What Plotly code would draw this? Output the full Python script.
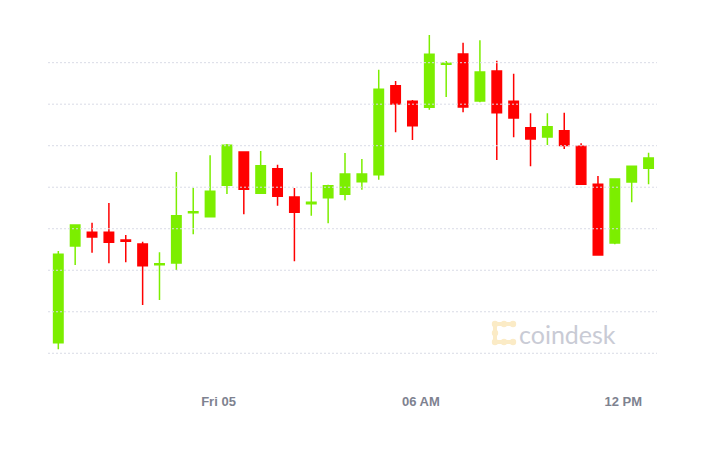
import plotly.graph_objects as go

times = [
    "2020-06-04 19:15", "2020-06-04 19:45", "2020-06-04 20:15", "2020-06-04 20:45",
    "2020-06-04 21:15", "2020-06-04 21:45", "2020-06-04 22:15", "2020-06-04 22:45",
    "2020-06-04 23:15", "2020-06-04 23:45",
    "2020-06-05 00:15", "2020-06-05 00:45", "2020-06-05 01:15", "2020-06-05 01:45",
    "2020-06-05 02:15", "2020-06-05 02:45", "2020-06-05 03:15", "2020-06-05 03:45",
    "2020-06-05 04:15", "2020-06-05 04:45", "2020-06-05 05:15", "2020-06-05 05:45",
    "2020-06-05 06:15", "2020-06-05 06:45", "2020-06-05 07:15", "2020-06-05 07:45",
    "2020-06-05 08:15", "2020-06-05 08:45", "2020-06-05 09:15", "2020-06-05 09:45",
    "2020-06-05 10:15", "2020-06-05 10:45", "2020-06-05 11:15", "2020-06-05 11:45",
    "2020-06-05 12:15", "2020-06-05 12:45",
]

open_ = [9512.8, 9629.2, 9645.7, 9645.7, 9636.5, 9631.7, 9606.6, 9608.8, 9669.4, 9664.5,
         9702.4, 9742.5, 9692.7, 9722.3, 9688.3, 9680.2, 9687.4, 9691.5, 9706.7, 9715.1,
         9822.3, 9803.5, 9796.3, 9848.2, 9860.5, 9803.9, 9840.0, 9803.5, 9771.7, 9760.5,
         9768.1, 9749.3, 9703.6, 9632.9, 9706.3, 9722.8]
high = [9623.2, 9655.4, 9657.3, 9681.0, 9642.5, 9634.4, 9621.7, 9718.4, 9699.1, 9738.5,
        9752.1, 9743.0, 9743.7, 9727.2, 9699.1, 9718.0, 9703.1, 9741.3, 9734.0, 9841.6,
        9828.0, 9805.1, 9883.4, 9852.1, 9874.1, 9877.0, 9852.4, 9836.8, 9789.1, 9789.1,
        9789.8, 9752.9, 9713.6, 9710.2, 9725.4, 9741.6]
low = [9504.8, 9606.4, 9621.2, 9608.4, 9609.6, 9558.2, 9564.2, 9600.3, 9643.3, 9663.8,
       9691.9, 9667.4, 9692.5, 9677.8, 9610.8, 9665.7, 9656.6, 9684.3, 9697.1, 9709.1,
       9766.2, 9756.9, 9793.4, 9808.7, 9790.3, 9802.3, 9732.8, 9760.2, 9725.2, 9750.9,
       9746.1, 9702.7, 9618.0, 9631.3, 9681.9, 9703.6]
close = [9619.2, 9654.5, 9640.1, 9633.7, 9634.9, 9605.5, 9607.8, 9665.7, 9670.6, 9695.1,
         9750.5, 9697.5, 9726.0, 9689.1, 9669.8, 9681.9, 9701.9, 9716.0, 9716.0, 9818.0,
         9800.3, 9774.1, 9860.1, 9849.4, 9796.7, 9838.8, 9789.8, 9783.4, 9758.1, 9772.9,
         9750.1, 9703.6, 9618.4, 9709.9, 9725.2, 9735.2]

grid_values = [9500, 9550, 9600, 9650, 9700, 9750, 9800, 9850]
tick_vals = ["2020-06-05 00:00", "2020-06-05 06:00", "2020-06-05 12:00"]
tick_text = ["Fri 05", "06 AM", "12 PM"]

GREEN = "#7CEE00"
RED = "#FF0000"
GRID = "#D9DBE6"

fig = go.Figure(go.Candlestick(
    x=times, open=open_, high=high, low=low, close=close,
    increasing=dict(fillcolor=GREEN, line=dict(color=GREEN, width=1.5)),
    decreasing=dict(fillcolor=RED, line=dict(color=RED, width=1.5)),
    whiskerwidth=0, showlegend=False, hoverinfo="skip",
))

# page offset from the default body margin
OFF = 8
W, H = 710, 458
ML, MT = 40, 12
PW, PH = 609, 364
MR = W - ML - PW
MB = H - MT - PH

def px(x):
    return (x - OFF - ML) / PW

def py(y):
    return (MT + PH - (y - OFF)) / PH

shapes = []
# dotted horizontal gridlines, drawn above the candles as in the original
for gv in grid_values:
    shapes.append(dict(type="line", xref="paper", yref="y", x0=0, x1=1, y0=gv, y1=gv,
                       line=dict(color=GRID, width=1, dash="2px,2px"), layer="above"))

# watermark logo (decorative)
LOGO = "#FBEBC6"
shapes.append(dict(type="path", xref="paper", yref="paper",
                   path=f"M {px(513)},{py(324)} L {px(495)},{py(324)} L {px(495)},{py(342)} L {px(513)},{py(342)}",
                   line=dict(color=LOGO, width=4), layer="below"))
for cx, cy in [(495, 324), (504, 324), (513, 324), (495, 333), (495, 342), (504, 342), (513, 342)]:
    r = 3.2
    shapes.append(dict(type="circle", xref="paper", yref="paper",
                       x0=px(cx - r), x1=px(cx + r), y0=py(cy + r), y1=py(cy - r),
                       fillcolor=LOGO, line=dict(width=0), layer="below"))

fig.update_layout(
    width=W, height=H,
    margin=dict(l=ML, r=MR, t=MT, b=MB),
    paper_bgcolor="white", plot_bgcolor="white",
    boxgap=0.2,
    showlegend=False,
    shapes=shapes,
    annotations=[dict(text="coindesk", xref="paper", yref="paper",
                      x=px(567), y=py(334), xanchor="center", yanchor="middle",
                      showarrow=False,
                      font=dict(family="Lato", size=25, color="#C9CBD5"))],
    xaxis=dict(
        type="date",
        range=["2020-06-04 18:56:40", "2020-06-05 13:00"],
        rangeslider=dict(visible=False),
        tickvals=tick_vals, ticktext=tick_text,
        showgrid=False, zeroline=False, showline=False, ticks="",
        ticklabelstandoff=8,
        tickfont=dict(family="Liberation Sans", size=13, color="#7E8290", weight="bold"),
    ),
    yaxis=dict(
        range=[9463.0, 9901.4],
        showticklabels=False, ticks="",
        showgrid=False, zeroline=False, showline=False,
    ),
)

fig.write_html("out.html")
